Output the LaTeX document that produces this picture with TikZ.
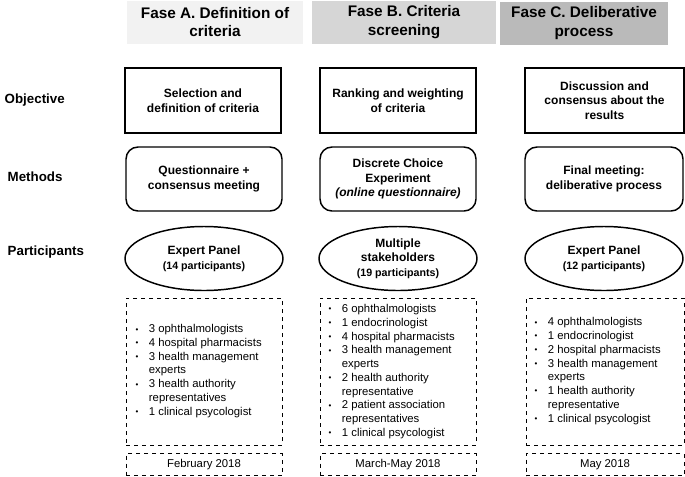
\documentclass[tikz,border=0pt]{standalone}
\usepackage{fontspec}
\setmainfont{Liberation Sans}
\usetikzlibrary{shapes.geometric}
\begin{document}
\begin{tikzpicture}[x=0.75pt,y=-0.75pt,
  hdr/.style={font=\bfseries\fontsize{11.5}{14}\selectfont,align=center,inner sep=0pt},
  lbl/.style={font=\bfseries\fontsize{10}{12}\selectfont,anchor=west},
  bx/.style={draw,line width=1.1pt,font=\bfseries\fontsize{9}{11}\selectfont,align=center,inner sep=0pt},
  lst/.style={draw,dashed,line width=0.4pt,font=\fontsize{8.5}{10}\selectfont,inner sep=0pt},
  txt/.style={font=\fontsize{8.5}{10.3}\selectfont,align=left,anchor=west,inner sep=0pt}]
\useasboundingbox (0,0) rectangle (685,476);
% headers
\fill[black!5] (127,1) rectangle (303,44);
\fill[black!16] (312,1) rectangle (496,44);
\fill[black!27] (500,2) rectangle (668,45);
\node[hdr] (hA) at (215,22) {Fase A. Definition of\\criteria};
\node[hdr] (hB) at (404,22) {Fase B. Criteria\\screening};
\node[hdr] (hC) at (584,23) {Fase C. Deliberative\\process};
% row labels
\node[lbl] (lo) at (0,100) {Objective};
\node[lbl] (lm) at (3,177) {Methods};
\node[lbl] (lp) at (3,252) {Participants};
% objective
\node[bx,minimum width=156*0.75pt,minimum height=65*0.75pt] (oA) at (203,100.5) {Selection and\\definition of criteria};
\node[bx,minimum width=156*0.75pt,minimum height=65*0.75pt] (oB) at (398,100.5) {Ranking and weighting\\of criteria};
\node[bx,minimum width=159*0.75pt,minimum height=65*0.75pt] (oC) at (604.5,100.5) {Discussion and\\consensus about the\\results};
% methods
\node[bx,rounded corners=9pt,minimum width=156*0.75pt,minimum height=64*0.75pt] (mA) at (204,179) {Questionnaire +\\consensus meeting};
\node[bx,rounded corners=9pt,minimum width=156*0.75pt,minimum height=64*0.75pt] (mB) at (398,179) {Discrete Choice\\Experiment\\\textit{(online questionnaire)}};
\node[bx,rounded corners=9pt,minimum width=158*0.75pt,minimum height=64*0.75pt] (mC) at (604,179) {Final meeting:\\deliberative process};
% participants
\foreach \n/\x/\t in {pA/204/{Expert Panel\\{\fontsize{8}{9.5}\selectfont(14 participants)}},
                      pB/398/{Multiple\\stakeholders\\{\fontsize{8}{9.5}\selectfont(19 participants)}},
                      pC/604/{Expert Panel\\{\fontsize{8}{9.5}\selectfont(12 participants)}}}
  \node[bx,ellipse,inner sep=0pt,minimum width=158*0.75pt,minimum height=64*0.75pt] (\n) at (\x,258.5) {\t};
% lists
\node[lst,minimum width=156*0.75pt,minimum height=147*0.75pt] (dA) at (204,371.5) {};
\node[lst,minimum width=156*0.75pt,minimum height=147*0.75pt] (dB) at (398,371.5) {};
\node[lst,minimum width=158*0.75pt,minimum height=147*0.75pt] (dC) at (605,371.5) {};
\newcommand{\bl}{\makebox[14pt][l]{\hspace{4pt}\raisebox{0.5pt}{\fontsize{6}{6}\selectfont\textbullet}}}
\newcommand{\cn}{\hspace*{14pt}}
\node[txt] (tA) at (130,371) {%
\bl 3 ophthalmologists\\\bl 4 hospital pharmacists\\\bl 3 health management\\\cn experts\\\bl 3 health authority\\\cn representatives\\\bl 1 clinical psycologist};
\node[txt] (tB) at (323,371.5) {%
\bl 6 ophthalmologists\\\bl 1 endocrinologist\\\bl 4 hospital pharmacists\\\bl 3 health management\\\cn experts\\\bl 2 health authority\\\cn representative\\\bl 2 patient association\\\cn representatives\\\bl 1 clinical psycologist};
\node[txt] (tC) at (529,371) {%
\bl 4 ophthalmologists\\\bl 1 endocrinologist\\\bl 2 hospital pharmacists\\\bl 3 health management\\\cn experts\\\bl 1 health authority\\\cn representative\\\bl 1 clinical psycologist};
% dates
\node[lst,minimum width=156*0.75pt,minimum height=22*0.75pt] (eA) at (204,464.5) {February 2018};
\node[lst,minimum width=156*0.75pt,minimum height=22*0.75pt] (eB) at (398,464.5) {March-May 2018};
\node[lst,minimum width=158*0.75pt,minimum height=22*0.75pt] (eC) at (605,464.5) {May 2018};
\end{tikzpicture}
\end{document}
